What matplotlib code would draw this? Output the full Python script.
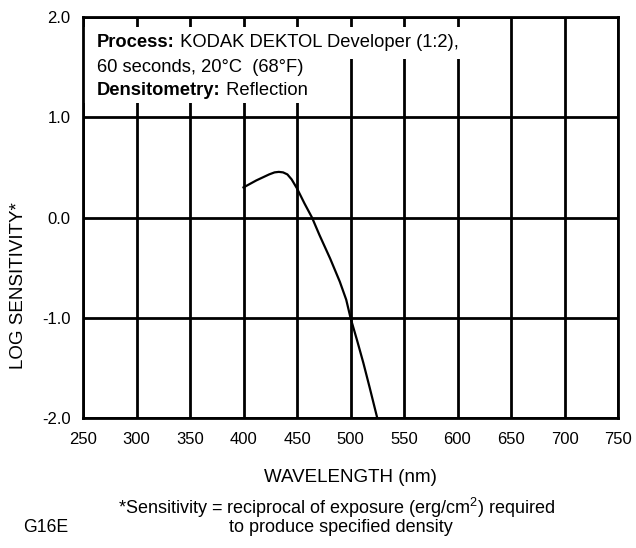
import matplotlib
matplotlib.use("Agg")
import matplotlib.pyplot as plt
from matplotlib.patches import Rectangle

plt.rcParams["font.family"] = ["Liberation Sans", "DejaVu Sans"]
plt.rcParams["mathtext.fontset"] = "custom"
plt.rcParams["mathtext.rm"] = "Liberation Sans"

# spectral sensitivity curve
wavelength = [400, 406, 412, 418, 424, 429, 433, 437, 441, 445, 450, 457, 464, 471,
              481, 490, 496, 500, 506, 512, 518, 525]
log_sens = [0.30, 0.335, 0.37, 0.40, 0.43, 0.45, 0.455, 0.45, 0.43, 0.38, 0.29, 0.14,
            0.0, -0.175, -0.41, -0.64, -0.82, -1.0, -1.22, -1.45, -1.70, -2.0]

x_ticks = list(range(250, 751, 50))
y_ticks = [-2.0, -1.0, 0.0, 1.0, 2.0]
y_tick_labels = ["-2.0", "-1.0", "0.0", "1.0", "2.0"]

W, H = 636, 548
fig = plt.figure(figsize=(W / 100, H / 100), dpi=100)
ax = fig.add_axes([83 / W, 1 - 418 / H, (618 - 83) / W, (418 - 17) / H])

ax.set_xlim(250, 750)
ax.set_ylim(-2, 2)
ax.set_xticks(x_ticks)
ax.set_yticks(y_ticks)
ax.set_yticklabels(y_tick_labels)
ax.tick_params(length=0, labelsize=12)
ax.tick_params(axis="x", pad=10)
ax.tick_params(axis="y", pad=9)
ax.set_axisbelow(True)
ax.grid(True, color="black", linewidth=2.0)
for s in ax.spines.values():
    s.set_linewidth(2.0)

# white boxes behind the process note (grid shows only as short stubs)
ax.add_patch(Rectangle((250, 1.58), 362, 0.32, facecolor="white", edgecolor="none", zorder=1))
ax.add_patch(Rectangle((250, 1.145), 221, 0.45, facecolor="white", edgecolor="none", zorder=1))

ax.plot(wavelength, log_sens, color="black", linewidth=1.6, zorder=3)

fs = 13.2
t1 = ax.text(263, 1.75, "Process:", fontsize=fs, fontweight="bold", va="center", zorder=4)
ax.annotate(" KODAK DEKTOL Developer (1:2),", xy=(1, 0.5), xycoords=t1,
            fontsize=fs, va="center", ha="left", zorder=4)
ax.text(263, 1.50, "60 seconds, 20°C  (68°F)", fontsize=fs, va="center", zorder=4)
t3 = ax.text(263, 1.27, "Densitometry:", fontsize=fs, fontweight="bold", va="center", zorder=4)
ax.annotate(" Reflection", xy=(1, 0.5), xycoords=t3,
            fontsize=fs, va="center", ha="left", zorder=4)

fig.text(19 / W, 1 - 286 / H, "LOG SENSITIVITY*", rotation=90, ha="center", va="center", fontsize=13.5)
fig.text(350 / W, 1 - 477 / H, "WAVELENGTH (nm)", ha="center", va="center", fontsize=13.5)
fig.text(337 / W, 1 - 508 / H, r"*Sensitivity = reciprocal of exposure (erg/cm$^2$) required",
         ha="center", va="center", fontsize=13)
fig.text(341 / W, 1 - 528 / H, "to produce specified density", ha="center", va="center", fontsize=13)
fig.text(23 / W, 1 - 528 / H, "G16E", ha="left", va="center", fontsize=12.7)

fig.savefig("out.png", dpi=100)
